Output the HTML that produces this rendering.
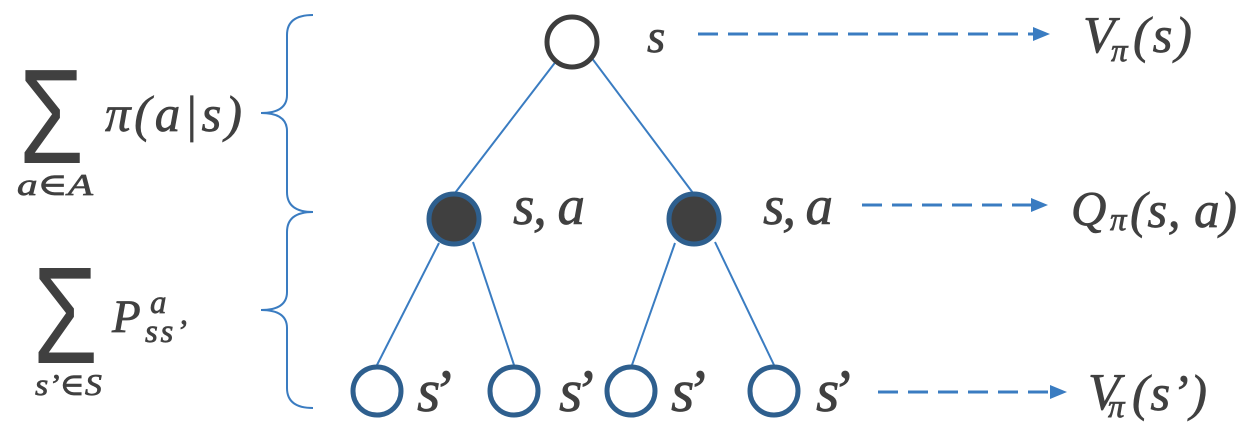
<!DOCTYPE html>
<html>
<head>
<meta charset="utf-8">
<style>
  html, body { margin:0; padding:0; background:#ffffff; }
  body { width:1248px; height:425px; overflow:hidden; }
  svg { display:block; }
  .t { font-family:"Liberation Serif", "DejaVu Serif", serif; font-style:italic; fill:#404040; stroke:#404040; stroke-width:0.7; }
  .sig { font-family:"Liberation Sans", "DejaVu Sans", sans-serif; fill:#404040; }
</style>
</head>
<body>
<svg width="1248" height="425" viewBox="0 0 1248 425" xmlns="http://www.w3.org/2000/svg">
  <!-- braces -->
  <path d="M313,15 Q287,15 287,35 L287,95 Q287,113 261,113 Q287,113 287,131 L287,192 Q287,212 313,212" fill="none" stroke="#3a7cc1" stroke-width="2"/>
  <path d="M313,212 Q287,212 287,232 L287,292 Q287,310 261,310 Q287,310 287,328 L287,388 Q287,408 313,408" fill="none" stroke="#3a7cc1" stroke-width="2"/>

  <!-- sums -->
  <text class="sig" x="0" y="0" font-size="100" transform="translate(19,163) scale(1.05,1.35)">Σ</text>
  <text class="t" x="17" y="195" font-size="31" textLength="76" lengthAdjust="spacingAndGlyphs">a∈A</text>
  <text class="t" x="105" y="131" font-size="51" textLength="137">π(a|s)</text>

  <text class="sig" x="0" y="0" font-size="100" transform="translate(33,363) scale(1.05,1.38)">Σ</text>
  <text class="t" x="35" y="395" font-size="31" textLength="67" lengthAdjust="spacingAndGlyphs">s’∈S</text>
  <text class="t" x="112" y="332" font-size="47">P</text>
  <text class="t" x="150" y="313" font-size="33">a</text>
  <text class="t" x="145" y="342" font-size="33" textLength="42">ss’</text>

  <!-- tree edges -->
  <g stroke="#3a7cc1" stroke-width="2" fill="none">
    <line x1="557" y1="60" x2="455" y2="193"/>
    <line x1="591" y1="57" x2="693" y2="193"/>
    <line x1="439" y1="243" x2="377" y2="365"/>
    <line x1="473" y1="242" x2="514" y2="365"/>
    <line x1="675" y1="243" x2="632" y2="365"/>
    <line x1="715" y1="242" x2="774" y2="365"/>
  </g>

  <!-- nodes -->
  <circle cx="572" cy="42" r="25" fill="#ffffff" stroke="#3d3d3d" stroke-width="5"/>
  <circle cx="454" cy="219" r="25" fill="#404040" stroke="#2e5f8e" stroke-width="5"/>
  <circle cx="694" cy="219" r="25" fill="#404040" stroke="#2e5f8e" stroke-width="5"/>
  <circle cx="377" cy="391" r="24" fill="#ffffff" stroke="#2e5f8e" stroke-width="5"/>
  <circle cx="514" cy="391" r="24" fill="#ffffff" stroke="#2e5f8e" stroke-width="5"/>
  <circle cx="631" cy="391" r="24" fill="#ffffff" stroke="#2e5f8e" stroke-width="5"/>
  <circle cx="774" cy="391" r="24" fill="#ffffff" stroke="#2e5f8e" stroke-width="5"/>

  <!-- node labels -->
  <text class="t" x="647" y="52" font-size="47">s</text>
  <text class="t" x="513" y="224" font-size="55" textLength="72">s, a</text>
  <text class="t" x="763" y="224" font-size="55" textLength="70">s, a</text>
  <text class="t" x="417" y="411" font-size="60" textLength="35">s’</text>
  <text class="t" x="559" y="411" font-size="60" textLength="35">s’</text>
  <text class="t" x="671" y="411" font-size="60" textLength="35">s’</text>
  <text class="t" x="816" y="411" font-size="60" textLength="35">s’</text>

  <!-- dashed arrows -->
  <g stroke="#3a7cc1" stroke-width="3" fill="none" stroke-dasharray="20 10">
    <line x1="698" y1="34" x2="1033" y2="34"/>
    <line x1="862" y1="205" x2="1031" y2="205"/>
    <line x1="878" y1="392" x2="1050" y2="392"/>
  </g>
  <g fill="#3a7cc1">
    <polygon points="1033,27 1050,34 1033,41"/>
    <polygon points="1031,198 1048,205 1031,212"/>
    <polygon points="1050,385 1067,392 1050,399"/>
  </g>

  <!-- value labels -->
  <text class="t" x="1083" y="52" font-size="52">V</text>
  <text class="t" x="1111" y="61" font-size="33">π</text>
  <text class="t" x="1133" y="52" font-size="51" textLength="59">(s)</text>

  <text class="t" x="1071" y="225" font-size="49">Q</text>
  <text class="t" x="1110" y="230" font-size="33">π</text>
  <text class="t" x="1130" y="227" font-size="51" textLength="107">(s, a)</text>

  <text class="t" x="1088" y="409" font-size="52">V</text>
  <text class="t" x="1108" y="417" font-size="33">π</text>
  <text class="t" x="1132" y="410" font-size="51" textLength="75">(s’)</text>
</svg>
</body>
</html>
